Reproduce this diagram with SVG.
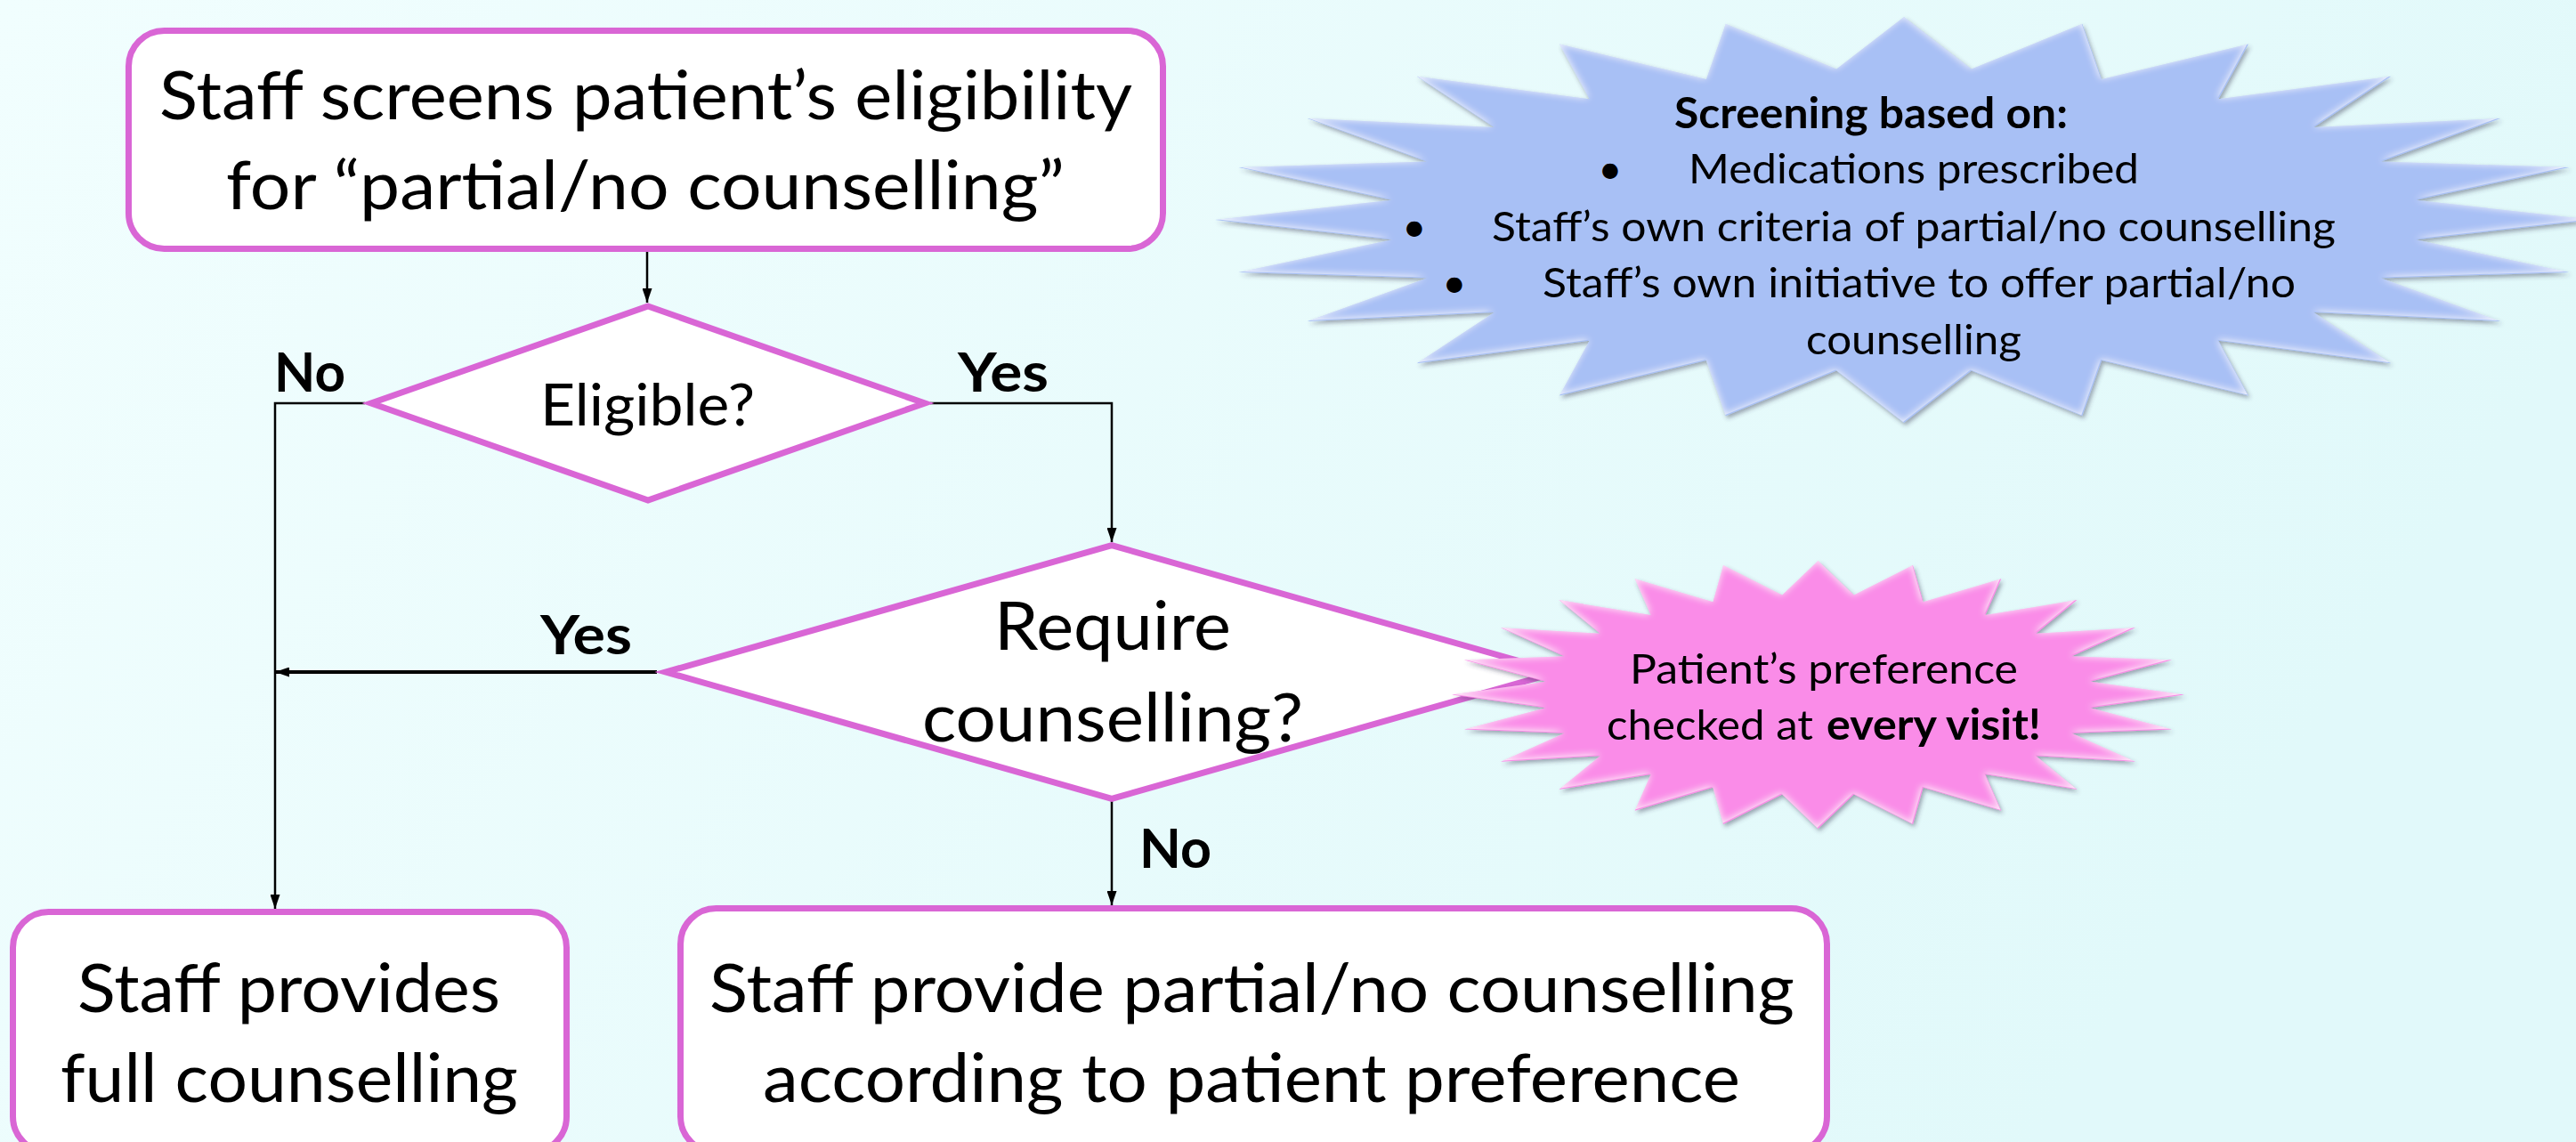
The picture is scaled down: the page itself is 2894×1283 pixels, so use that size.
<svg xmlns="http://www.w3.org/2000/svg" width="2894" height="1283" viewBox="0 0 2894 1283">
  <defs>
    <linearGradient id="bg" x1="0" y1="0" x2="1" y2="0.3">
      <stop offset="0" stop-color="#F1FEFE"/>
      <stop offset="1" stop-color="#E1F9FA"/>
    </linearGradient>
    <marker id="arrow" markerUnits="userSpaceOnUse" viewBox="0 0 16 11" refX="16" refY="5.5" markerWidth="16" markerHeight="11" orient="auto">
      <path d="M0,0 L16,5.5 L0,11 z" fill="#000"/>
    </marker>
    <!-- soft bevel + drop shadow used by the two starbursts -->
    <filter id="bevel" x="-3%" y="-8%" width="106%" height="120%">
      <feGaussianBlur in="SourceAlpha" stdDeviation="2.5" result="blurA"/>
      <feOffset in="blurA" dx="2" dy="3" result="offA"/>
      <feFlood flood-color="#3a3a55" flood-opacity="0.45"/>
      <feComposite in2="offA" operator="in" result="shadow"/>
      <feGaussianBlur in="SourceAlpha" stdDeviation="4" result="blurB"/>
      <feComposite in="SourceAlpha" in2="blurB" operator="arithmetic" k1="-1" k2="1" k3="0" k4="0" result="edge"/>
      <feOffset in="edge" dx="-1" dy="-1" result="edgeOff"/>
      <feFlood flood-color="#ffffff" flood-opacity="0.85"/>
      <feComposite in2="edgeOff" operator="in" result="glow"/>
      <feComposite in="glow" in2="SourceAlpha" operator="in" result="glowIn"/>
      <feMerge>
        <feMergeNode in="shadow"/>
        <feMergeNode in="SourceGraphic"/>
        <feMergeNode in="glowIn"/>
      </feMerge>
    </filter>
  </defs>
  <style>
    .box { fill: #ffffff; stroke: #D966D5; stroke-width: 7; }
    .dia { fill: #ffffff; stroke: #D966D5; stroke-width: 7; stroke-linejoin: miter; }
    .conn { fill: none; stroke: #000; stroke-width: 2.5; }
    .thick { stroke-width: 4; }
    text { font-family: Lato, "Liberation Sans", sans-serif; fill: #000; }
    .big { font-size: 76px; }
    .mid { font-size: 66px; }
    .lbl { font-size: 61px; font-weight: bold; }
    .small { font-size: 47px; }
    .b { font-weight: bold; }
    .ctr { text-anchor: middle; }
  </style>

  <rect x="0" y="0" width="2894" height="1283" fill="url(#bg)"/>

  <!-- connectors -->
  <g id="connectors">
    <path class="conn" d="M727,283 V340" marker-end="url(#arrow)"/>
    <path class="conn" d="M410,453 H309 V1021" marker-end="url(#arrow)"/>
    <path class="conn" d="M1045,453 H1249 V609" marker-end="url(#arrow)"/>
    <path class="conn thick" d="M738,755 H309" marker-end="url(#arrow)"/>
    <path class="conn" d="M1249,899 V1017" marker-end="url(#arrow)"/>
  </g>

  <!-- branch labels -->
  <g id="labels">
    <text class="lbl" x="308" y="440" textLength="80" lengthAdjust="spacingAndGlyphs">No</text>
    <text class="lbl" x="1076" y="440" textLength="102" lengthAdjust="spacingAndGlyphs">Yes</text>
    <text class="lbl" x="607" y="735" textLength="103" lengthAdjust="spacingAndGlyphs">Yes</text>
    <text class="lbl" x="1280" y="975" textLength="81" lengthAdjust="spacingAndGlyphs">No</text>
  </g>

  <g id="screen">
    <rect class="box" x="144.5" y="34.5" width="1162" height="245" rx="40"/>
    <text class="big" x="179" y="134" textLength="1093" lengthAdjust="spacingAndGlyphs">Staff screens patient’s eligibility</text>
    <text class="big" x="254" y="235" textLength="942" lengthAdjust="spacingAndGlyphs">for “partial/no counselling”</text>
  </g>

  <g id="eligible">
    <polygon class="dia" points="728,344 1039,453 728,562 417,453"/>
    <text class="mid" x="607" y="478" textLength="241" lengthAdjust="spacingAndGlyphs">Eligible?</text>
  </g>

  <g id="require">
    <polygon class="dia" points="1249,612.6 1750,755 1249,897.4 748,755"/>
    <text class="big" x="1117" y="730" textLength="266" lengthAdjust="spacingAndGlyphs">Require</text>
    <text class="big" x="1036" y="833" textLength="428" lengthAdjust="spacingAndGlyphs">counselling?</text>
  </g>

  <g id="full">
    <rect class="box" x="14.5" y="1024.5" width="622" height="270" rx="40"/>
    <text class="big" x="87" y="1137" textLength="475" lengthAdjust="spacingAndGlyphs">Staff provides</text>
    <text class="big" x="68" y="1238" textLength="514" lengthAdjust="spacingAndGlyphs">full counselling</text>
  </g>

  <g id="partial">
    <rect class="box" x="764.5" y="1020.5" width="1288" height="274" rx="40"/>
    <text class="big" x="797" y="1137" textLength="1219" lengthAdjust="spacingAndGlyphs">Staff provide partial/no counselling</text>
    <text class="big" x="857" y="1238" textLength="1098" lengthAdjust="spacingAndGlyphs">according to patient preference</text>
  </g>

  <g id="criteria">
    <polygon filter="url(#bevel)" fill="#A8C0F5" points="2139,19 2214.8,77.5 2339.3,26.8 2361.1,89 2526,49.5 2492.4,111.3 2686.3,85.8 2599.5,142.9 2809.3,133 2675.3,181.6 2886.6,188 2714.5,224.7 2913,247 2714.5,269.3 2886.6,306 2675.3,312.4 2809.3,361 2599.5,351.1 2686.3,408.2 2492.4,382.7 2526,444.5 2361.1,405 2339.3,467.2 2214.8,416.5 2139,475 2063.2,416.5 1938.7,467.2 1916.9,405 1752,444.5 1785.6,382.7 1591.7,408.2 1678.5,351.1 1468.7,361 1602.7,312.4 1391.4,306 1563.5,269.3 1365,247 1563.5,224.7 1391.4,188 1602.7,181.6 1468.7,133 1678.5,142.9 1591.7,85.8 1785.6,111.3 1752,49.5 1916.9,89 1938.7,26.8 2063.2,77.5"/>
    <text class="small b" x="1881" y="144" textLength="442" lengthAdjust="spacingAndGlyphs">Screening based on:</text>
    <text class="small ctr" x="1809" y="206">•</text>
    <text class="small" x="1897" y="206" textLength="506" lengthAdjust="spacingAndGlyphs">Medications prescribed</text>
    <text class="small ctr" x="1589" y="271">•</text>
    <text class="small" x="1676" y="271" textLength="948" lengthAdjust="spacingAndGlyphs">Staff’s own criteria of partial/no counselling</text>
    <text class="small ctr" x="1634" y="334">•</text>
    <text class="small" x="1733" y="334" textLength="846" lengthAdjust="spacingAndGlyphs">Staff’s own initiative to offer partial/no</text>
    <text class="small" x="2029" y="398" textLength="242" lengthAdjust="spacingAndGlyphs">counselling</text>
  </g>

  <g id="preference">
    <polygon filter="url(#bevel)" fill="#FA8CE8" points="2042.5,630 2082.8,668.6 2149,635.1 2160.6,676.2 2248.3,650.2 2230.4,690.9 2333.5,674.1 2287.3,711.8 2398.9,705.2 2327.6,737.3 2440,741.5 2348.5,765.8 2454,780.5 2348.5,795.2 2440,819.5 2327.6,823.7 2398.9,855.8 2287.3,849.2 2333.5,886.9 2230.4,870.1 2248.3,910.8 2160.6,884.8 2149,925.9 2082.8,892.4 2042.5,931 2002.2,892.4 1936,925.9 1924.4,884.8 1836.7,910.8 1854.6,870.1 1751.5,886.9 1797.7,849.2 1686.1,855.8 1757.4,823.7 1645,819.5 1736.5,795.2 1631,780.5 1736.5,765.8 1645,741.5 1757.4,737.3 1686.1,705.2 1797.7,711.8 1751.5,674.1 1854.6,690.9 1836.7,650.2 1924.4,676.2 1936,635.1 2002.2,668.6"/>
    <text class="small" x="1831" y="768" textLength="436" lengthAdjust="spacingAndGlyphs">Patient’s preference</text>
    <text class="small" x="1805" y="831" textLength="232" lengthAdjust="spacingAndGlyphs">checked at</text>
    <text class="small b" x="2052" y="831" textLength="241" lengthAdjust="spacingAndGlyphs">every visit!</text>
  </g>
</svg>
